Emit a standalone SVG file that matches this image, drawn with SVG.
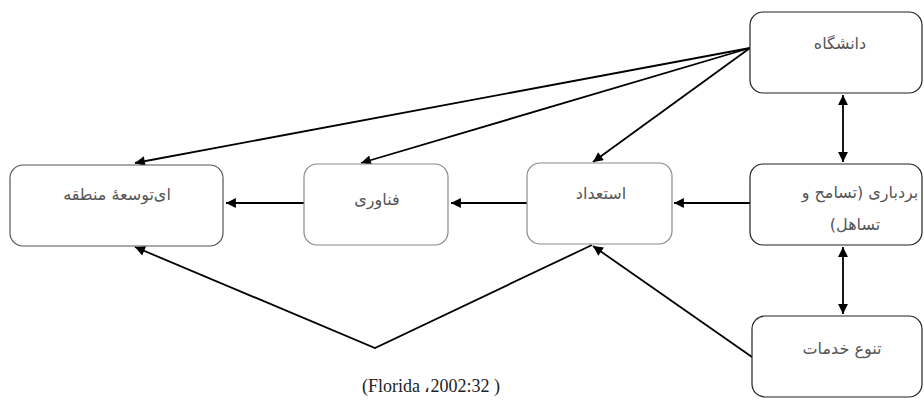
<svg xmlns="http://www.w3.org/2000/svg" width="924" height="400" viewBox="0 0 924 400">
<style>
.box{fill:#fff;stroke-width:1.2}
.dark{stroke:#222}
.mid{stroke:#555}
.light{stroke:#8a8a8a}
.t{font-family:"DejaVu Sans",sans-serif;font-size:16px;fill:#555;text-anchor:middle;direction:rtl}
.c{fill:none;stroke:#000;stroke-width:1.8}
.cap{font-family:"Liberation Serif",serif;font-size:18px;fill:#222}
</style>
<defs>
<marker id="ah" viewBox="0 0 10 10" refX="10" refY="5" markerWidth="6" markerHeight="5.5" orient="auto-start-reverse" markerUnits="strokeWidth">
<path d="M0,0 L10,5 L0,10 z" fill="#000"/>
</marker>
</defs>
<rect width="924" height="400" fill="#fff"/>
<g id="connectors">
<line class="c" x1="750" y1="48" x2="135" y2="163" marker-end="url(#ah)"/>
<line class="c" x1="750" y1="48" x2="361" y2="163" marker-end="url(#ah)"/>
<line class="c" x1="750" y1="48" x2="593" y2="162" marker-end="url(#ah)"/>
<line class="c" x1="843" y1="95" x2="843" y2="162" marker-start="url(#ah)" marker-end="url(#ah)"/>
<line class="c" x1="843" y1="247" x2="843" y2="314" marker-start="url(#ah)" marker-end="url(#ah)"/>
<line class="c" x1="750" y1="203" x2="674" y2="203" marker-end="url(#ah)"/>
<line class="c" x1="527" y1="203" x2="451" y2="203" marker-end="url(#ah)"/>
<line class="c" x1="304" y1="203" x2="226" y2="203" marker-end="url(#ah)"/>
<line class="c" x1="752" y1="357" x2="593" y2="246" marker-end="url(#ah)"/>
<polyline class="c" points="592,245 375,348 135,247" marker-end="url(#ah)"/>
</g>
<g id="n-university">
<rect class="box dark" x="750" y="12" width="172" height="81" rx="13"/>
<text class="t" x="840" y="49">دانشگاه</text>
</g>
<g id="n-tolerance">
<rect class="box dark" x="750" y="164" width="172" height="81" rx="13"/>
<text class="t" x="860" y="198">بردباری (تسامح و</text>
<text class="t" x="855" y="230">تساهل)</text>
</g>
<g id="n-diversity">
<rect class="box dark" x="752" y="316" width="170" height="81" rx="13"/>
<text class="t" x="842" y="354">تنوع خدمات</text>
</g>
<g id="n-talent">
<rect class="box light" x="527" y="163" width="145" height="81" rx="13"/>
<text class="t" x="601" y="199">استعداد</text>
</g>
<g id="n-technology">
<rect class="box light" x="304" y="164" width="144" height="81" rx="13"/>
<text class="t" x="377" y="205">فناوری</text>
</g>
<g id="n-regional">
<rect class="box mid" x="10" y="165" width="213" height="81" rx="13"/>
<text class="t" x="117" y="200">ای‌توسعۀ منطقه</text>
</g>
<text class="cap" x="362" y="392">(Florida ،2002:32 )</text>
</svg>
